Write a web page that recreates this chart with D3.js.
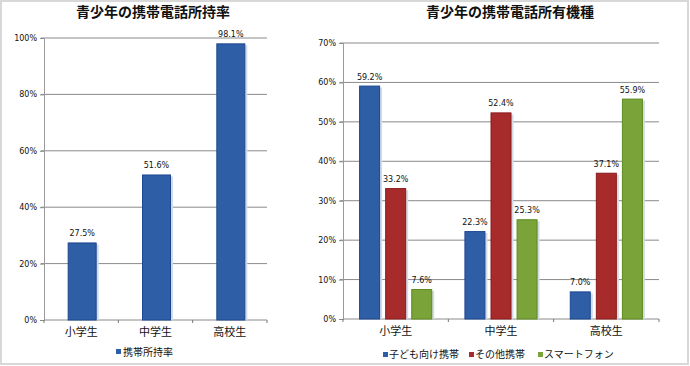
<!DOCTYPE html>
<html>
<head>
<meta charset="utf-8">
<script src="https://cdn.jsdelivr.net/npm/d3@7"></script>
<style>
  body { margin: 0; background: #fff; }
  svg text { font-family: "Noto Sans CJK JP", "Noto Sans", sans-serif; fill: #111; }
  .tick text { font-family: "DejaVu Sans", sans-serif; font-size: 8px; }
  .dlabel { font-family: "DejaVu Sans", sans-serif; font-size: 8px; }
</style>
</head>
<body>
<div id="chart"></div>
<script>
// data
var categories = ["小学生", "中学生", "高校生"];
var ownershipLabel = "携帯所持率";
var ownership = [27.5, 51.6, 98.1];
var leftTicks = [0, 20, 40, 60, 80, 100];

var seriesNames = ["子ども向け携帯", "その他携帯", "スマートフォン"];
var kidsPhone = [59.2, 22.3, 7.0];
var otherPhone = [33.2, 52.4, 37.1];
var smartPhone = [7.6, 25.3, 55.9];
var rightTicks = [0, 10, 20, 30, 40, 50, 60, 70];

var colors = ["#2d5ea6", "#a82b2b", "#7aa33a"];
var strokes = ["#1c4790", "#8a1b1b", "#5c8a1d"];

var svg = d3.select("#chart").append("svg")
  .attr("width", 690)
  .attr("height", 366);

// outer border
svg.append("rect")
  .attr("x", 1).attr("y", 1)
  .attr("width", 687).attr("height", 363)
  .attr("fill", "none")
  .attr("stroke", "#d8d8d8")
  .attr("stroke-width", 2);

function drawAxes(g, x, y, ticks, w, h) {
  // gridlines
  g.selectAll(".grid")
    .data(ticks.slice(1))
    .enter().append("line")
    .attr("x1", -3).attr("x2", w)
    .attr("y1", d => y(d)).attr("y2", d => y(d))
    .attr("stroke", "#8a8a8a");

  var yAxis = g.append("g").call(d3.axisLeft(y).tickValues(ticks).tickFormat(d => d + "%").tickSize(4));
  yAxis.select(".domain").attr("stroke", "#9a9a9a");
  yAxis.selectAll(".tick line").attr("stroke", "#8a8a8a");
  yAxis.selectAll(".tick text").attr("x", -7);

  var xAxis = g.append("g")
    .attr("transform", `translate(0,${h})`)
    .call(d3.axisBottom(x).tickFormat("").tickSize(0));
  xAxis.select(".domain").remove();
  g.append("line")
    .attr("x1", 0).attr("x2", w).attr("y1", h).attr("y2", h)
    .attr("stroke", "#8a8a8a");
  // category boundary ticks
  g.selectAll(".ctick")
    .data(d3.range(categories.length + 1))
    .enter().append("line")
    .attr("x1", i => i * x.step()).attr("x2", i => i * x.step())
    .attr("y1", h).attr("y2", h + 3)
    .attr("stroke", "#777");

  g.selectAll(".clabel")
    .data(categories)
    .enter().append("text")
    .attr("x", d => x(d) + x.bandwidth() / 2)
    .attr("y", h + 16)
    .attr("text-anchor", "middle")
    .style("font-size", "11px")
    .text(d => d);
}

function drawBar(g, bx, by, bw, bh, i) {
  g.append("rect")
    .attr("x", bx + 2).attr("y", by + 2)
    .attr("width", bw).attr("height", bh - 2)
    .attr("fill", "#d3dbe6");
  g.append("rect")
    .attr("x", bx + 0.5).attr("y", by + 0.5)
    .attr("width", bw - 1).attr("height", bh - 0.5)
    .attr("fill", colors[i])
    .attr("stroke", strokes[i]);
}

// ---------- left chart ----------
var lw = 223, lh = 282;
var left = svg.append("g").attr("transform", "translate(44,38)");

var x1 = d3.scaleBand().domain(categories).range([0, lw]);
var y1 = d3.scaleLinear().domain([0, 100]).range([lh, 0]);

svg.append("text")
  .attr("x", 153).attr("y", 17)
  .attr("text-anchor", "middle")
  .style("font-size", "14px").style("font-weight", "bold")
  .text("青少年の携帯電話所持率");

drawAxes(left, x1, y1, leftTicks, lw, lh);

ownership.forEach(function(v, j) {
  var bw = 29;
  var bx = x1(categories[j]) + x1.bandwidth() / 2 - bw / 2 + 1;
  drawBar(left, bx, y1(v), bw, lh - y1(v), 0);
  left.append("text")
    .attr("class", "dlabel")
    .attr("x", bx + bw / 2)
    .attr("y", y1(v) - 6)
    .attr("text-anchor", "middle")
    .text(v.toFixed(1) + "%");
});

// legend
svg.append("rect").attr("x", 116).attr("y", 349).attr("width", 5).attr("height", 5).attr("fill", colors[0]);
svg.append("text").attr("x", 123).attr("y", 356).style("font-size", "10px").text(ownershipLabel);

// ---------- right chart ----------
var rw = 316, rh = 276;
var right = svg.append("g").attr("transform", "translate(343,43)");

var x2 = d3.scaleBand().domain(categories).range([0, rw]);
var y2 = d3.scaleLinear().domain([0, 70]).range([rh, 0]);

svg.append("text")
  .attr("x", 510).attr("y", 17)
  .attr("text-anchor", "middle")
  .style("font-size", "14px").style("font-weight", "bold")
  .text("青少年の携帯電話所有機種");

drawAxes(right, x2, y2, rightTicks, rw, rh);

var series = [kidsPhone, otherPhone, smartPhone];
var xs = d3.scaleBand().domain(d3.range(3)).range([-36.5, 36.5]).paddingInner(0.2);

series.forEach(function(vals, i) {
  vals.forEach(function(v, j) {
    var bw = 21;
    var bx = x2(categories[j]) + x2.bandwidth() / 2 + xs(i) + xs.bandwidth() / 2 - bw / 2;
    drawBar(right, bx, y2(v), bw, rh - y2(v), i);
    right.append("text")
      .attr("class", "dlabel")
      .attr("x", bx + bw / 2)
      .attr("y", y2(v) - 6)
      .attr("text-anchor", "middle")
      .text(v.toFixed(1) + "%");
  });
});

var legendX = [383, 469, 538];
seriesNames.forEach(function(name, i) {
  svg.append("rect").attr("x", legendX[i]).attr("y", 352).attr("width", 5).attr("height", 5).attr("fill", colors[i]);
  svg.append("text").attr("x", legendX[i] + 6).attr("y", 358).style("font-size", "10px").text(name);
});
</script>
</body>
</html>
